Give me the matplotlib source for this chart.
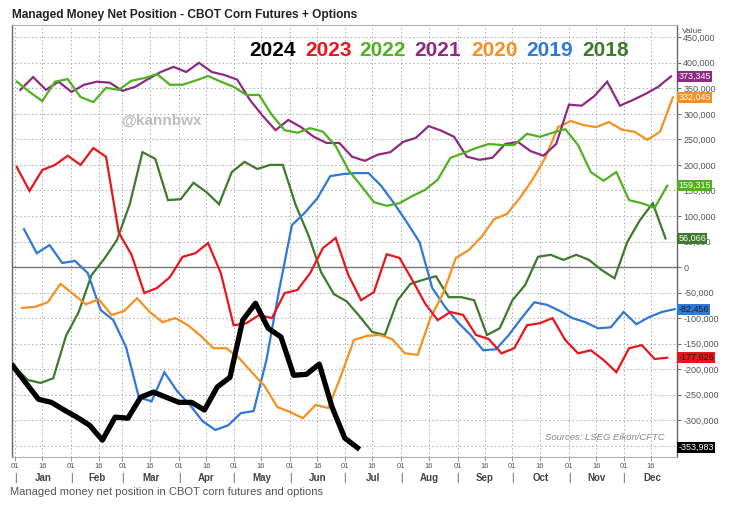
import numpy as np
import matplotlib.pyplot as plt
from matplotlib.ticker import FuncFormatter

plt.rcParams['font.family'] = ['Liberation Sans', 'DejaVu Sans']

title = "Managed Money Net Position - CBOT Corn Futures + Options"
caption = "Managed money net position in CBOT corn futures and options"
source = "Sources: LSEG Eikon/CFTC"
watermark = "@kannbwx"

months = ['Jan', 'Feb', 'Mar', 'Apr', 'May', 'Jun',
          'Jul', 'Aug', 'Sep', 'Oct', 'Nov', 'Dec']
month_start = [0, 31, 59, 90, 120, 151, 181, 212, 243, 273, 304, 334]

years = ['2018', '2019', '2020', '2021', '2022', '2023', '2024']
colors = {'2024': '#000000', '2023': '#e8161c', '2022': '#4fb020',
          '2021': '#8f2a80', '2020': '#f7901e', '2019': '#2e78d8',
          '2018': '#3d7a2b'}
# day of year (0 = Jan 1) of the first weekly report in each series
start_day = {'2024': -1, '2023': 1, '2022': 1, '2021': 3,
             '2020': 4, '2019': 5, '2018': 0}

# weekly net position, thousands of contracts
net_2024 = [-194, -227, -259, -265, -280, -294, -310, -339, -294, -296,
            -255, -245, -255, -265, -265, -280, -235, -216, -104, -71,
            -120, -137, -212, -210, -190, -274, -335, -353.983]
net_2023 = [196, 149, 190, 200, 218, 200, 233, 216, 67, 24,
            -51, -41, -20, 20, 27, 47, -12, -114, -110, -94,
            -100, -51, -45, -12, 37, 57, -16, -65, -49, 25,
            18, -25, -71, -104, -88, -94, -133, -141, -169, -159,
            -114, -110, -100, -143, -169, -163, -182, -206, -159, -153,
            -180, -177.626]
net_2022 = [363, 343, 325, 363, 368, 333, 323, 351, 347, 365,
            370, 378, 357, 357, 365, 374, 363, 353, 337, 337,
            298, 268, 263, 272, 265, 237, 190, 159, 127, 120,
            125, 139, 151, 171, 214, 223, 233, 241, 239, 239,
            261, 255, 263, 270, 239, 186, 169, 186, 131, 125,
            116, 159.315]
net_2021 = [347, 372, 347, 363, 343, 357, 363, 361, 345, 353,
            368, 382, 392, 382, 400, 382, 376, 367, 327, 296,
            268, 288, 274, 255, 243, 243, 216, 208, 220, 225,
            245, 253, 276, 267, 255, 216, 210, 214, 241, 245,
            227, 218, 241, 318, 316, 335, 363, 316, 327, 339,
            353, 373.345]
net_2020 = [-80, -78, -69, -33, -53, -73, -63, -94, -86, -61,
            -88, -108, -100, -114, -135, -159, -159, -178, -206, -233,
            -274, -284, -296, -270, -276, -212, -143, -135, -133, -141,
            -169, -172, -100, -51, 18, 33, 59, 94, 104, 135,
            171, 214, 274, 286, 278, 274, 284, 269, 265, 249,
            265, 332.045]
net_2019 = [74, 27, 43, 8, 12, -12, -84, -104, -157, -255,
            -263, -206, -243, -270, -302, -319, -310, -286, -282, -182,
            -45, 82, 106, 135, 178, 182, 184, 184, 159, 125,
            88, 49, -41, -78, -108, -133, -163, -161, -133, -100,
            -69, -74, -86, -100, -108, -120, -118, -88, -112, -98,
            -88, -82.456]
net_2018 = [-196, -221, -227, -218, -135, -88, -16, 16, 53, 123,
            225, 212, 131, 133, 165, 147, 123, 186, 206, 192,
            200, 200, 122, 63, -10, -53, -67, -96, -127, -133,
            -65, -33, -25, -18, -59, -59, -65, -133, -120, -65,
            -35, 20, 24, 14, 24, 14, -6, -22, 49, 92,
            125, 56.066]

series = {'2024': net_2024, '2023': net_2023, '2022': net_2022,
          '2021': net_2021, '2020': net_2020, '2019': net_2019,
          '2018': net_2018}
label_text = {'2024': 'white', '2023': '#1a1a1a', '2022': 'white',
              '2021': 'white', '2020': 'white', '2019': '#1a1a1a',
              '2018': 'white'}

fig = plt.figure(figsize=(7.35, 5.05), dpi=100)
ax = fig.add_axes([12 / 735, 1 - 457 / 505, 665 / 735, 432 / 505])

for yr in years:
    vals = np.array(series[yr]) * 1000
    days = start_day[yr] + 7 * np.arange(len(vals))
    lw = 3.8 if yr == '2024' else 1.6
    ax.plot(days, vals, color=colors[yr], lw=lw,
            solid_joinstyle='miter' if yr != '2024' else 'round',
            zorder=5 if yr == '2024' else 3)
    # last value box on the right axis
    ax.annotate(f"{vals[-1]:,.0f}", xy=(1, vals[-1]),
                xycoords=('axes fraction', 'data'),
                xytext=(1, 0), textcoords='offset points',
                ha='left', va='center', fontsize=6.5, color=label_text[yr],
                bbox=dict(boxstyle='square,pad=0.12', fc=colors[yr], ec='none'),
                annotation_clip=False, zorder=10)

ax.set_xlim(-1.6, 363.3)
ax.set_ylim(-372000, 474000)

# x axis: 01 / 16 ticks, month row below
ticks = []
for m in month_start:
    ticks += [m, m + 15]
ax.set_xticks(ticks)
ax.set_xticklabels(['01', '16'] * 12, fontsize=5.5, color='#555555')
ax.tick_params(axis='x', length=3, width=0.6, color='#888888', pad=1.5)
for i, m in enumerate(months):
    ax.text(month_start[i], -0.048, '|', transform=ax.get_xaxis_transform(),
            ha='center', va='center', fontsize=7, color='#444444')
    end = month_start[i + 1] if i < 11 else 365
    ax.text((month_start[i] + end) / 2, -0.048, m,
            transform=ax.get_xaxis_transform(), ha='center', va='center',
            fontsize=7, fontweight='bold', color='#444444')

# y axis on the right
ax.yaxis.tick_right()
ax.set_yticks(np.arange(-300000, 450001, 50000))
ax.yaxis.set_major_formatter(FuncFormatter(lambda v, p: f"{v:,.0f}"))
ax.tick_params(axis='y', labelsize=6.5, labelcolor='#555555', length=3,
               width=0.6, color='#555555', pad=1.5)
ax.text(1.008, 0.985, 'Value', transform=ax.transAxes, fontsize=6,
        color='#555555', ha='left', va='center')

# grid
ax.grid(True, which='major', color='#aaaaaa', linestyle=(0, (1.5, 2.5)),
        linewidth=0.7)
ax.set_axisbelow(True)
ax.axhline(-350000, color='#aaaaaa', linestyle=(0, (1.5, 2.5)),
           linewidth=0.7, zorder=0)
ax.axhline(0, color='#777777', linewidth=1.0, zorder=2)

for side in ['top', 'bottom']:
    ax.spines[side].set_color('#b0b0b0')
    ax.spines[side].set_linewidth(0.8)
for side in ['left', 'right']:
    ax.spines[side].set_color('#666666')
    ax.spines[side].set_linewidth(1.0)

# year legend
legend_x = [273, 328, 383, 438, 495, 550, 606]
for xpix, yr in zip(legend_x, ['2024', '2023', '2022', '2021', '2020',
                               '2019', '2018']):
    fig.text(xpix / 735, 1 - 51 / 505, yr, color=colors[yr], fontsize=15,
             fontweight='bold', ha='center', va='center')

fig.text(12 / 735, 1 - 15 / 505, title, fontsize=8.6, fontweight='bold',
         color='#222222', ha='left', va='center')
fig.text(121 / 735, 1 - 121 / 505, watermark, fontsize=11, fontweight='bold',
         color='#b5b5b5', ha='left', va='center', alpha=0.9)
fig.text(665 / 735, 1 - 437 / 505, source, fontsize=6.8, style='italic',
         color='#888888', ha='right', va='center')
fig.text(10 / 735, 1 - 492 / 505, caption, fontsize=8, color='#555555',
         ha='left', va='center')

fig.savefig('out.png', dpi=100)
